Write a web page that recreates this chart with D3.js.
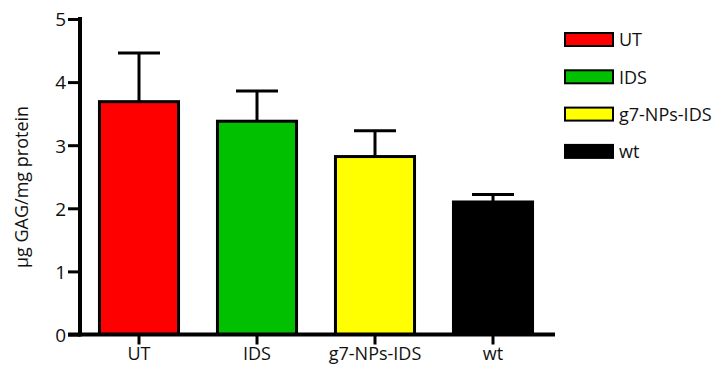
<!DOCTYPE html>
<html>
<head>
<meta charset="utf-8">
<script src="https://cdn.jsdelivr.net/npm/d3@7"></script>
<style>
  body { margin: 0; background: #fff; }
  svg text { font-family: "Open Sans", "Noto Sans", sans-serif; fill: #111; }
</style>
</head>
<body>
<div id="chart"></div>
<script>
// data
const groups = ["UT", "IDS", "g7-NPs-IDS", "wt"];
const means = [3.69, 3.38, 2.82, 2.10];
const errs = [0.77, 0.48, 0.41, 0.12];
const colors = ["#ff0000", "#00c000", "#ffff00", "#000000"];
const yTicks = [0, 1, 2, 3, 4, 5];

const width = 718, height = 370;
const svg = d3.select("#chart").append("svg")
  .attr("width", width)
  .attr("height", height);

const x = d3.scaleBand()
  .domain(groups)
  .range([80, 552])
  .paddingInner(0.33)
  .paddingOuter(0.165);

const y = d3.scaleLinear().domain([0, 5]).range([334.5, 19]);

// bars
svg.selectAll("rect.bar")
  .data(groups)
  .join("rect")
  .attr("class", "bar")
  .attr("x", d => x(d))
  .attr("width", x.bandwidth())
  .attr("y", (d, i) => y(means[i]))
  .attr("height", (d, i) => y(0) - y(means[i]))
  .attr("fill", (d, i) => colors[i])
  .attr("stroke", "#000")
  .attr("stroke-width", 3);

// error bars (upper only)
const capW = 42;
const eb = svg.selectAll("g.err").data(groups).join("g").attr("class", "err");
eb.append("line")
  .attr("x1", d => x(d) + x.bandwidth() / 2)
  .attr("x2", d => x(d) + x.bandwidth() / 2)
  .attr("y1", (d, i) => y(means[i]))
  .attr("y2", (d, i) => y(means[i] + errs[i]))
  .attr("stroke", "#000").attr("stroke-width", 3);
eb.append("line")
  .attr("x1", d => x(d) + x.bandwidth() / 2 - capW / 2)
  .attr("x2", d => x(d) + x.bandwidth() / 2 + capW / 2)
  .attr("y1", (d, i) => y(means[i] + errs[i]))
  .attr("y2", (d, i) => y(means[i] + errs[i]))
  .attr("stroke", "#000").attr("stroke-width", 3);

// y axis
const yAxis = svg.append("g")
  .attr("transform", "translate(80,0)")
  .call(d3.axisLeft(y).tickValues(yTicks).tickSize(12).tickPadding(2).tickFormat(d3.format("d")));
yAxis.select(".domain").attr("d", `M0,${y(5)}V${y(0)}`).attr("stroke-width", 4).attr("stroke-linecap", "square");
yAxis.selectAll(".tick line").attr("stroke-width", 3);
yAxis.selectAll(".tick text").attr("font-size", 19).attr("dy", "0.36em");

// x axis
const xAxis = svg.append("g")
  .attr("transform", `translate(0,${y(0)})`)
  .call(d3.axisBottom(x).tickSize(10).tickPadding(3));
xAxis.select(".domain").attr("d", `M68,0H555`).attr("stroke-width", 4);
xAxis.selectAll(".tick line").attr("stroke-width", 3);
xAxis.selectAll(".tick text").attr("font-size", 18);

// y label
svg.append("text")
  .attr("transform", `translate(28,${187}) rotate(-90)`)
  .attr("text-anchor", "middle")
  .attr("font-size", 18)
  .text("µg GAG/mg protein");

// legend
const legend = svg.append("g").attr("transform", "translate(565,33)");
const li = legend.selectAll("g").data(groups).join("g")
  .attr("transform", (d, i) => `translate(0,${i * 37.3})`);
li.append("rect")
  .attr("width", 48).attr("height", 13)
  .attr("fill", (d, i) => colors[i])
  .attr("stroke", "#000").attr("stroke-width", 2);
li.append("text")
  .attr("x", 54).attr("y", 7).attr("dy", "0.36em")
  .attr("font-size", 18)
  .text(d => d);
</script>
</body>
</html>
